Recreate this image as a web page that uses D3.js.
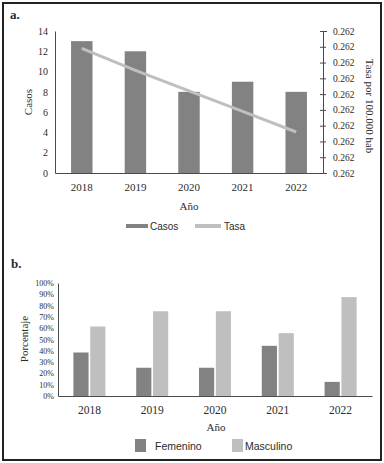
<!DOCTYPE html>
<html>
<head>
<meta charset="utf-8">
<script src="https://cdn.jsdelivr.net/npm/d3@7"></script>
<style>
  body { margin: 0; background: #fff; }
  svg text { fill: #2b2b2b; }
  .serif { font-family: "Liberation Serif", "Times New Roman", serif; }
  .sans { font-family: "Liberation Sans", Arial, sans-serif; }
</style>
</head>
<body>
<div id="chart"></div>
<script>
// Data
const years = ["2018", "2019", "2020", "2021", "2022"];
const casos = [13, 12, 8, 9, 8];
const tasa = [0.26234, 0.26220, 0.26207, 0.26194, 0.26181];
const femenino = [38.5, 25, 25, 44.4, 12.5];
const masculino = [61.5, 75, 75, 55.6, 87.5];
const casosTicks = [0, 2, 4, 6, 8, 10, 12, 14];
const tasaTicks = [0.26155, 0.26165, 0.26175, 0.26185, 0.26195, 0.26205, 0.26215, 0.26225, 0.26235, 0.26245];
const pctTicks = [0, 10, 20, 30, 40, 50, 60, 70, 80, 90, 100];

const darkGray = "#828282";
const lightGray = "#bfbfbf";
const axisColor = "#4a4a4a";

const svg = d3.select("#chart").append("svg")
  .attr("width", 384).attr("height", 463);

// outer frame
svg.append("rect")
  .attr("x", 3).attr("y", 3).attr("width", 378).attr("height", 457)
  .attr("fill", "none").attr("stroke", "#222").attr("stroke-width", 2);

// ---------- Panel a ----------
svg.append("text").attr("class", "serif")
  .attr("x", 10).attr("y", 19)
  .style("font-size", "13px").style("font-weight", "bold")
  .text("a.");

const xA = d3.scaleBand().domain(years).range([55, 323])
  .paddingInner(0.6).paddingOuter(0.3);
const yA = d3.scaleLinear().domain([0, 14]).range([173, 31]);
const yR = d3.scaleLinear().domain([tasaTicks[0], tasaTicks[tasaTicks.length - 1]]).range([173, 31]);

svg.selectAll("rect.casos")
  .data(years)
  .join("rect").attr("class", "casos")
  .attr("x", d => xA(d))
  .attr("width", xA.bandwidth())
  .attr("y", (d, i) => yA(casos[i]))
  .attr("height", (d, i) => yA(0) - yA(casos[i]))
  .attr("fill", darkGray);

const line = d3.line()
  .x((d, i) => xA(years[i]) + xA.bandwidth() / 2)
  .y(d => yR(d));
svg.append("path")
  .datum(tasa)
  .attr("d", line)
  .attr("fill", "none")
  .attr("stroke", lightGray)
  .attr("stroke-width", 3);

// left axis
const axL = svg.append("g").attr("transform", "translate(55,0)")
  .call(d3.axisLeft(yA).tickValues(casosTicks).tickSize(0).tickPadding(7));
axL.select(".domain").attr("stroke", axisColor);
axL.selectAll("text").attr("class", "serif").style("font-size", "10px").attr("fill", "#2b2b2b");

// right axis
const axR = svg.append("g").attr("transform", "translate(323,0)")
  .call(d3.axisRight(yR).tickValues(tasaTicks).tickFormat(d3.format(".3f")).tickSize(4).tickPadding(6));
axR.select(".domain").attr("stroke", axisColor);
axR.selectAll(".tick line").attr("x1", -3).attr("x2", 3).attr("stroke", axisColor);
axR.selectAll("text").attr("class", "serif").style("font-size", "9.5px").attr("fill", "#2b2b2b");

// bottom axis
const axB = svg.append("g").attr("transform", "translate(0,173)")
  .call(d3.axisBottom(xA).tickSize(0).tickPadding(10).tickSizeOuter(0));
axB.select(".domain").attr("stroke", axisColor);
axB.selectAll("text").attr("class", "serif").style("font-size", "11px").attr("fill", "#2b2b2b");

svg.append("text").attr("class", "serif")
  .attr("x", 189).attr("y", 210).attr("text-anchor", "middle")
  .style("font-size", "11px").text("Año");
svg.append("text").attr("class", "serif")
  .attr("transform", "translate(32,102) rotate(-90)").attr("text-anchor", "middle")
  .style("font-size", "11px").text("Casos");
svg.append("text").attr("class", "serif")
  .attr("transform", "translate(366,106) rotate(90)").attr("text-anchor", "middle")
  .style("font-size", "11px").text("Tasa por 100.000 hab");

// legend a
svg.append("rect").attr("x", 126).attr("y", 224).attr("width", 22).attr("height", 4).attr("fill", darkGray);
svg.append("text").attr("class", "sans").attr("x", 150).attr("y", 230)
  .style("font-size", "10px").text("Casos");
svg.append("line").attr("x1", 195).attr("x2", 221).attr("y1", 226).attr("y2", 226)
  .attr("stroke", lightGray).attr("stroke-width", 4);
svg.append("text").attr("class", "sans").attr("x", 224).attr("y", 230)
  .style("font-size", "10px").text("Tasa");

// ---------- Panel b ----------
svg.append("text").attr("class", "serif")
  .attr("x", 11).attr("y", 268)
  .style("font-size", "13px").style("font-weight", "bold")
  .text("b.");

const xB = d3.scaleBand().domain(years).range([58, 372])
  .paddingInner(0.49).paddingOuter(0.245);
const x1 = d3.scaleBand().domain(["Femenino", "Masculino"]).range([0, xB.bandwidth()]).padding(0.1).paddingOuter(0);
const yB = d3.scaleLinear().domain([0, 100]).range([396, 283]);

const groups = svg.selectAll("g.year")
  .data(years)
  .join("g").attr("class", "year")
  .attr("transform", d => `translate(${xB(d)},0)`);

groups.append("rect")
  .attr("x", x1("Femenino")).attr("width", x1.bandwidth())
  .attr("y", (d, i) => yB(femenino[i]))
  .attr("height", (d, i) => yB(0) - yB(femenino[i]))
  .attr("fill", darkGray);
groups.append("rect")
  .attr("x", x1("Masculino")).attr("width", x1.bandwidth())
  .attr("y", (d, i) => yB(masculino[i]))
  .attr("height", (d, i) => yB(0) - yB(masculino[i]))
  .attr("fill", lightGray);

const axBL = svg.append("g").attr("transform", "translate(58,0)")
  .call(d3.axisLeft(yB).tickValues(pctTicks).tickFormat(d => d + "%").tickSize(0).tickPadding(4));
axBL.select(".domain").attr("stroke", axisColor);
axBL.selectAll("text").attr("class", "serif").style("font-size", "8px").attr("fill", "#2b2b2b");

const axBB = svg.append("g").attr("transform", "translate(0,396)")
  .call(d3.axisBottom(xB).tickSize(0).tickPadding(10).tickSizeOuter(0));
axBB.select(".domain").attr("stroke", axisColor);
axBB.selectAll("text").attr("class", "serif").style("font-size", "11.5px").attr("fill", "#2b2b2b");

svg.append("text").attr("class", "serif")
  .attr("x", 216).attr("y", 431).attr("text-anchor", "middle")
  .style("font-size", "11px").text("Año");
svg.append("text").attr("class", "serif")
  .attr("transform", "translate(28,339) rotate(-90)").attr("text-anchor", "middle")
  .style("font-size", "11px").text("Porcentaje");

// legend b
svg.append("rect").attr("x", 135).attr("y", 439).attr("width", 11).attr("height", 13).attr("fill", darkGray);
svg.append("text").attr("class", "sans").attr("x", 155).attr("y", 450)
  .style("font-size", "10.5px").text("Femenino");
svg.append("rect").attr("x", 232).attr("y", 439).attr("width", 11).attr("height", 13).attr("fill", lightGray);
svg.append("text").attr("class", "sans").attr("x", 245).attr("y", 450)
  .style("font-size", "10.5px").text("Masculino");
</script>
</body>
</html>
